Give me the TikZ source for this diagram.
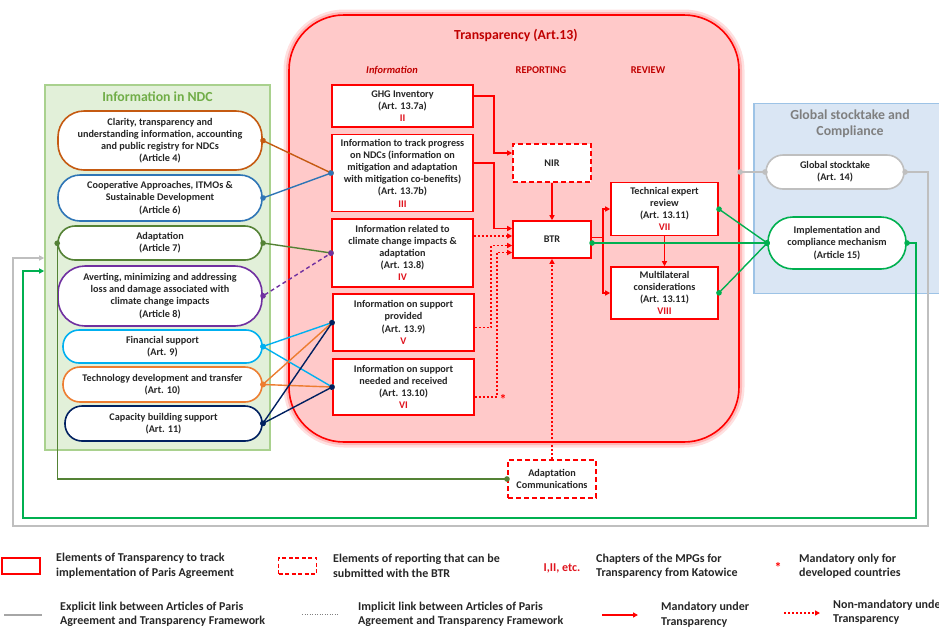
\documentclass[tikz,border=0pt]{standalone}
\usepackage{fontspec}
\setmainfont{Carlito}
\usetikzlibrary{arrows.meta}
\definecolor{txt}{HTML}{262626}
\definecolor{tred}{HTML}{FF0000}
\definecolor{dred}{HTML}{C00000}
\definecolor{numred}{HTML}{E0141E}
\definecolor{tfill}{HTML}{FFC9C9}
\definecolor{ndcfill}{HTML}{E2F0D9}
\definecolor{ndcline}{HTML}{A9D18E}
\definecolor{ndctitle}{HTML}{70AD47}
\definecolor{gscfill}{HTML}{DAE6F4}
\definecolor{gscline}{HTML}{9DC3E6}
\definecolor{gsctitle}{HTML}{7F7F7F}
\definecolor{clarity}{HTML}{C55A11}
\definecolor{coop}{HTML}{2E75B6}
\definecolor{adapt}{HTML}{548235}
\definecolor{lossdmg}{HTML}{7030A0}
\definecolor{finance}{HTML}{00B0F0}
\definecolor{techdev}{HTML}{ED7D31}
\definecolor{capbuild}{HTML}{002060}
\definecolor{stock}{HTML}{BFBFBF}
\definecolor{comply}{HTML}{00B050}

\begin{document}
\begin{tikzpicture}[x=1pt,y=-1pt,>/.tip={Triangle[length=5pt,width=5pt]},
	bead/.tip={Circle[length=5.5pt,width=5.5pt]},
	boxfont/.style={font=\fontsize{10.2}{12.2}\selectfont\bfseries,text=txt,align=center},
	pill/.style={boxfont,draw,line width=1.6pt,fill=white,minimum width=204pt,rounded corners=#1},
	infobox/.style={boxfont,draw=tred,line width=1.6pt,fill=white,minimum width=141pt,inner sep=1.5pt},
	optbox/.style={infobox,dash pattern=on 5pt off 3pt},
	link/.style={line width=1.4pt,bead-bead,shorten <=-2.5pt,shorten >=-2.5pt},
	mand/.style={draw=tred,line width=1.4pt,->},
	nonmand/.style={mand,dash pattern=on 2pt off 2pt},
	legfont/.style={font=\fontsize{12}{14.5}\selectfont\bfseries,text=txt,align=left,anchor=west,inner sep=0pt},
	titlefont/.style={font=\fontsize{13.8}{16.5}\selectfont\bfseries},
	headfont/.style={font=\fontsize{10.4}{12}\selectfont\bfseries,text=dred},
	tregion/.style={draw=tred,line width=1.6pt,fill=tfill,rounded corners=55pt,minimum width=450pt,minimum height=427pt,
		preaction={draw=tred!12,line width=11pt},preaction={draw=tred!28,line width=6pt}}]
	\useasboundingbox (0,0) rectangle (939,630);

	\draw (157.5,267.5) node (ndc) [draw=ndcline,line width=1.6pt,fill=ndcfill,minimum width=225pt,minimum height=365pt] {};
	\draw (157.5,97) node (ndct) [titlefont,text=ndctitle] {Information in NDC};
	\draw (847,198.5) node (gsc) [draw=gscline,line width=1.6pt,fill=gscfill,minimum width=186pt,minimum height=190pt] {};
	\draw (850,123.5) node (gsct) [titlefont,text=gsctitle,align=center] {Global stocktake and\\Compliance};
	\draw (514,228.5) node (trn) [tregion] {};
	\draw (516,35) node (trnt) [titlefont,text=dred] {Transparency (Art.13)};
	\draw (392,70) node (hinfo) [headfont] {\itshape Information};
	\draw (541,70) node (hrep) [headfont] {REPORTING};
	\draw (648,70) node (hrev) [headfont] {REVIEW};

	\draw (160,140.5) node (art4) [pill=26pt,draw=clarity,minimum height=59pt] {Clarity, transparency and\\understanding information, accounting\\and public registry for NDCs\\(Article 4)};
	\draw (160,198) node (art6) [pill=22pt,draw=coop,minimum height=46pt] {Cooperative Approaches, ITMOs \&\\Sustainable Development\\(Article 6)};
	\draw (160,243) node (art7) [pill=17pt,draw=adapt,minimum height=34pt] {Adaptation\\(Article 7)};
	\draw (160,296) node (art8) [pill=27pt,draw=lossdmg,minimum height=60pt] {Averting, minimizing and addressing\\loss and damage associated with\\climate change impacts\\(Article 8)};
	\draw (162.5,346.5) node (art9) [pill=16pt,draw=finance,minimum width=199pt,minimum height=33pt] {Financial support\\(Art. 9)};
	\draw (162.5,384.5) node (art10) [pill=17pt,draw=techdev,minimum width=199pt,minimum height=35pt] {Technology development and transfer\\(Art. 10)};
	\draw (163.5,423.5) node (art11) [pill=17pt,draw=capbuild,minimum width=197pt,minimum height=35pt] {Capacity building support\\(Art. 11)};

	\draw (402.5,106) node (ghg) [infobox,minimum height=42pt] {GHG Inventory\\(Art. 13.7a)\\\textcolor{numred}{II}};
	\draw (402.5,173) node (trk) [infobox,minimum height=77pt] {Information to track progress\\on NDCs (information on\\mitigation and adaptation\\with mitigation co-benefits)\\(Art. 13.7b)\\\textcolor{numred}{III}};
	\draw (402.5,253) node (rel) [infobox,minimum height=68pt] {Information related to\\climate change impacts \&\\adaptation\\(Art. 13.8)\\\textcolor{numred}{IV}};
	\draw (403.5,322.5) node (sup) [infobox,minimum height=57pt] {Information on support\\provided\\(Art. 13.9)\\\textcolor{numred}{V}};
	\draw (403.5,387) node (need) [infobox,minimum height=56pt] {Information on support\\needed and received\\(Art. 13.10)\\\textcolor{numred}{VI}};

	\draw (552,163) node (nir) [optbox,minimum width=78pt,minimum height=38pt] {NIR};
	\draw (552,239.5) node (btr) [infobox,minimum width=78pt,minimum height=37pt] {BTR};
	\draw (664.5,209) node (ter) [infobox,minimum width=107pt,minimum height=53pt] {Technical expert\\review\\(Art. 13.11)\\\textcolor{numred}{VII}};
	\draw (664.5,293) node (mlc) [infobox,minimum width=107pt,minimum height=52pt] {Multilateral\\considerations\\(Art. 13.11)\\\textcolor{numred}{VIII}};
	\draw (552,479) node (adc) [optbox,minimum width=88pt,minimum height=38pt] {Adaptation\\Communications};
	\draw (503,399) node (star) [font=\fontsize{14}{14}\selectfont\bfseries,text=tred] {*};

	\draw (835,172) node (gs) [pill=17pt,draw=stock,minimum width=138pt,minimum height=34pt] {Global stocktake\\(Art. 14)};
	\draw (837,243) node (imp) [pill=25pt,draw=comply,minimum width=138pt,minimum height=52pt] {Implementation and\\compliance mechanism\\(Article 15)};

	\draw[link,clarity] (art4.east) -- (trk.west);
	\draw[link,coop] (art6.east) -- (trk.west);
	\draw[link,adapt] (art7.east) -- (rel.west);
	\draw[link,lossdmg,dash pattern=on 4pt off 3pt] (art8.east) -- (rel.west);
	\draw[link,finance] (art9.east) -- (sup.west);
	\draw[link,finance] (art9.east) -- (need.west);
	\draw[link,techdev] (art10.east) -- (sup.west);
	\draw[link,techdev] (art10.east) -- (need.west);
	\draw[link,capbuild] (art11.east) -- (sup.west);
	\draw[link,capbuild] (art11.east) -- (need.west);

	\draw[mand] ([yshift=10pt]ghg.east) -- ++(20,0) |- ([yshift=10pt]nir.west);
	\draw[mand] ([yshift=10pt]trk.east) -- ++(20,0) |- ([yshift=11pt]btr.west);
	\draw[nonmand] ([yshift=17pt]rel.east) -- ++(10,0) |- ([yshift=3.5pt]btr.west);
	\draw[nonmand] ([yshift=-5pt]sup.east) -- ++(16,0) |- ([yshift=-6pt]btr.west);
	\draw[nonmand] ([yshift=-10pt]need.east) -- ++(22,0) |- ([yshift=-13pt]btr.west);
	\draw[mand] (nir.south) -- (btr.north);
	\draw[nonmand] (adc.north) -- (btr.south);
	\draw[mand] ([yshift=2pt]btr.east) -- ++(11,0) |- (ter.west);
	\draw[mand] ([yshift=2pt]btr.east) -- ++(11,0) |- (mlc.west);
	\draw[mand] (ter.south) -- (mlc.north);

	\draw[link,comply] (imp.west -| btr.east) -- (imp.west);
	\draw[link,comply] (ter.east) -- (imp.west);
	\draw[link,comply] (mlc.east) -- (imp.west);
	\draw[link,stock] (gs.west -| trn.east) -- (gs.west);

	\coordinate (gbend) at (916,518);
	\coordinate (gturn) at (23,518);
	\coordinate (sbend) at (928,526);
	\coordinate (sturn) at (13,526);
	\draw[comply,line width=1.4pt,bead->,shorten <=-2.5pt] (imp.east) -| (gbend) -- (gturn) |- ([yshift=-3.5pt]ndc.west);
	\draw[stock,line width=1.4pt,bead->,shorten <=-2.5pt] (gs.east) -| (sbend) -- (sturn) |- ([yshift=9.5pt]ndc.west);
	\draw[adapt,line width=1.4pt,bead-bead,shorten <=-2.5pt,shorten >=-2.5pt] (art7.west) |- (adc.west);

	\draw (21,566) node (lgbox) [draw=tred,line width=1.6pt,minimum width=38pt,minimum height=16pt] {};
	\draw (56,566) node (lgt1) [legfont] {Elements of Transparency to track\\implementation of Paris Agreement};
	\draw (297.5,566) node (lgopt) [draw=tred,line width=1.6pt,dash pattern=on 4pt off 2.5pt,minimum width=38pt,minimum height=16pt] {};
	\draw (333,566) node (lgt2) [legfont] {Elements of reporting that can be\\submitted with the BTR};
	\draw (562,568) node (lgnum) [font=\fontsize{12}{14}\selectfont\bfseries,text=numred] {I,II, etc.};
	\draw (596,566) node (lgt3) [legfont] {Chapters of the MPGs for\\Transparency from Katowice};
	\draw (778,567) node (lgstar) [font=\fontsize{14}{14}\selectfont\bfseries,text=tred] {*};
	\draw (799,566) node (lgt4) [legfont] {Mandatory only for\\developed countries};

	\coordinate (lg5a) at (4,615);
	\coordinate (lg5b) at (42,615);
	\coordinate (lg6a) at (302,614);
	\coordinate (lg6b) at (338,614);
	\coordinate (lg7a) at (602,615);
	\coordinate (lg7b) at (638,615);
	\coordinate (lg8a) at (784,613);
	\coordinate (lg8b) at (820,613);
	\draw[gray!70,line width=1.6pt] (lg5a) -- (lg5b);
	\draw (60,614.5) node (lgt5) [legfont] {Explicit link between Articles of Paris\\Agreement and Transparency Framework};
	\draw[gray,line width=1pt,dash pattern=on 1pt off 1.5pt] (lg6a) -- (lg6b);
	\draw (358,614.5) node (lgt6) [legfont] {Implicit link between Articles of Paris\\Agreement and Transparency Framework};
	\draw[mand] (lg7a) -- (lg7b);
	\draw (661,614.5) node (lgt7) [legfont] {Mandatory under\\Transparency};
	\draw[nonmand] (lg8a) -- (lg8b);
	\draw (833,612) node (lgt8) [legfont] {Non-mandatory under\\Transparency};
\end{tikzpicture}
\end{document}
